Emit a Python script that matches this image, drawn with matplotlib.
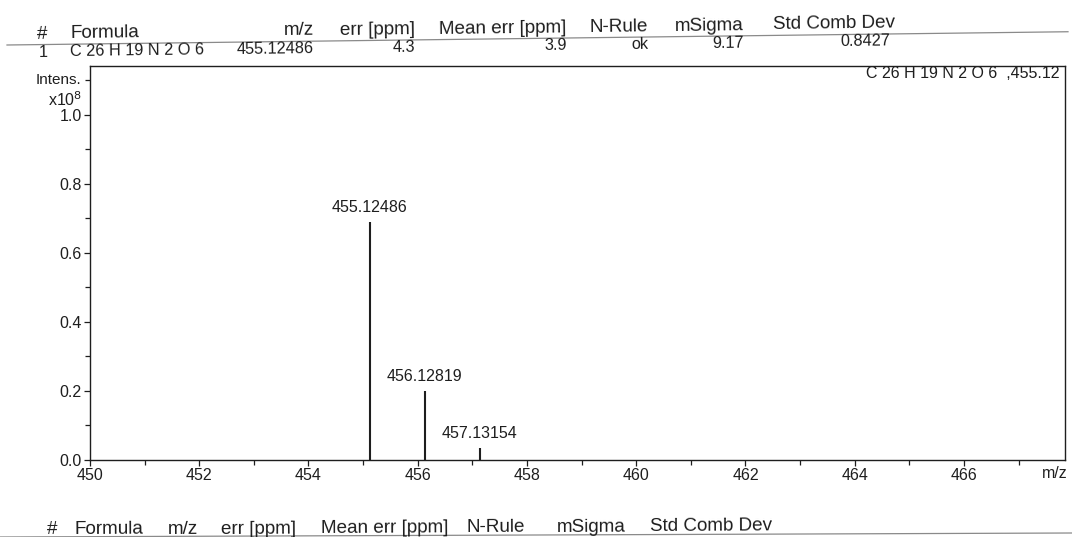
import matplotlib
matplotlib.use("Agg")
import matplotlib.pyplot as plt
from matplotlib.ticker import MultipleLocator, FixedLocator
import math

plt.rcParams['font.family'] = ['Liberation Sans', 'DejaVu Sans']

# ---- data ----
peak_mz = [455.12486, 456.12819, 457.13154]
peak_intens = [0.69, 0.20, 0.035]          # x10^8
peak_labels = ["455.12486", "456.12819", "457.13154"]

header_cols = ["#", "Formula", "m/z", "err [ppm]", "Mean err [ppm]", "N-Rule", "mSigma", "Std Comb Dev"]
row_vals = ["1", "C 26 H 19 N 2 O 6", "455.12486", "4.3", "3.9", "ok", "9.17", "0.8427"]
formula_tag = "C 26 H 19 N 2 O 6  ,455.12"
x_ticks = [450, 452, 454, 456, 458, 460, 462, 464, 466]
y_ticks = [0.0, 0.2, 0.4, 0.6, 0.8, 1.0]

W, H = 1072, 537
fig = plt.figure(figsize=(W / 100, H / 100), dpi=100)
fig.patch.set_facecolor('white')

def fx(x):
    return x / W

def fy(y):
    return 1 - y / H

SLOPE = 0.0125  # slight tilt of the scanned page (right side higher)
ROT = math.degrees(math.atan(SLOPE))

ink = '#1e1e1e'

# axes placement (pixels)
L, R, T, B = 90, 1065, 66, 460
ax = fig.add_axes([fx(L), fy(B), (R - L) / W, (B - T) / H])
ax.set_xlim(450, 467.85)
ax.set_ylim(0, 1.142)

ax.vlines(peak_mz, 0, peak_intens, colors=ink, linewidth=1.5)
for m, v, lab in zip(peak_mz, peak_intens, peak_labels):
    ax.annotate(lab, (m, v), xytext=(0, 5), textcoords='offset points',
                ha='center', va='bottom', fontsize=11.5, color=ink)

ax.xaxis.set_major_locator(FixedLocator(x_ticks))
ax.xaxis.set_minor_locator(MultipleLocator(1))
ax.yaxis.set_major_locator(FixedLocator(y_ticks))
ax.yaxis.set_minor_locator(MultipleLocator(0.1))
ax.set_xticklabels([str(t) for t in x_ticks])
ax.set_yticklabels([f"{t:.1f}" for t in y_ticks])
ax.tick_params(axis='both', which='major', direction='out', length=4, width=0.9,
               labelsize=11.5, colors=ink, pad=2)
ax.tick_params(axis='both', which='minor', direction='out', length=3.5, width=0.9, colors=ink)
for s in ax.spines.values():
    s.set_color(ink)
    s.set_linewidth(1.0)

fig.text(fx(1060), fy(73), formula_tag, ha='right', va='center',
         fontsize=11.5, color=ink)

# axis labels
fig.text(fx(1055), fy(473), "m/z", ha='center', va='center', fontsize=11.5, color=ink)
fig.text(fx(81), fy(80), "Intens.", ha='right', va='center', fontsize=11, color=ink)
fig.text(fx(82), fy(100), r"x10$^8$", ha='right', va='center', fontsize=11.5, color=ink)

# ---- top table ----
def hy(x):
    return 34 - SLOPE * (x - 40)

def ry(x):
    return 52 - SLOPE * (x - 40)

hdr_pos = [(42, 'center'), (70, 'left'), (314, 'right'), (415, 'right'),
           (566, 'right'), (648, 'right'), (744, 'right'), (895, 'right')]
row_pos = [(43, 'center'), (70, 'left'), (314, 'right'), (415, 'right'),
           (567, 'right'), (648, 'right'), (744, 'right'), (890, 'right')]
for (x, a), t in zip(hdr_pos, header_cols):
    fig.text(fx(x), fy(hy(x)), t, ha=a, va='center', fontsize=13.6, color=ink,
             rotation=ROT, rotation_mode='anchor')
for (x, a), t in zip(row_pos, row_vals):
    fig.text(fx(x), fy(ry(x)), t, ha=a, va='center', fontsize=11.7, color=ink,
             rotation=ROT, rotation_mode='anchor')
fig.add_artist(plt.Line2D([fx(7), fx(1068)], [fy(45), fy(45 - SLOPE * 1061)],
                          color='#8a8a8a', linewidth=0.9))

# ---- bottom table header ----
def by(x):
    return 530 - 0.005 * (x - 40)

bot_pos = [47, 74, 168, 221, 321, 466, 557, 650]
for x, t in zip(bot_pos, header_cols):
    fig.text(fx(x), fy(by(x)), t, ha='left', va='center', fontsize=13.6, color=ink,
             rotation=0.3, rotation_mode='anchor')
fig.add_artist(plt.Line2D([fx(0), fx(1072)], [fy(537), fy(533)],
                          color='#8a8a8a', linewidth=0.9))

fig.savefig("out.png", dpi=100, facecolor='white')
